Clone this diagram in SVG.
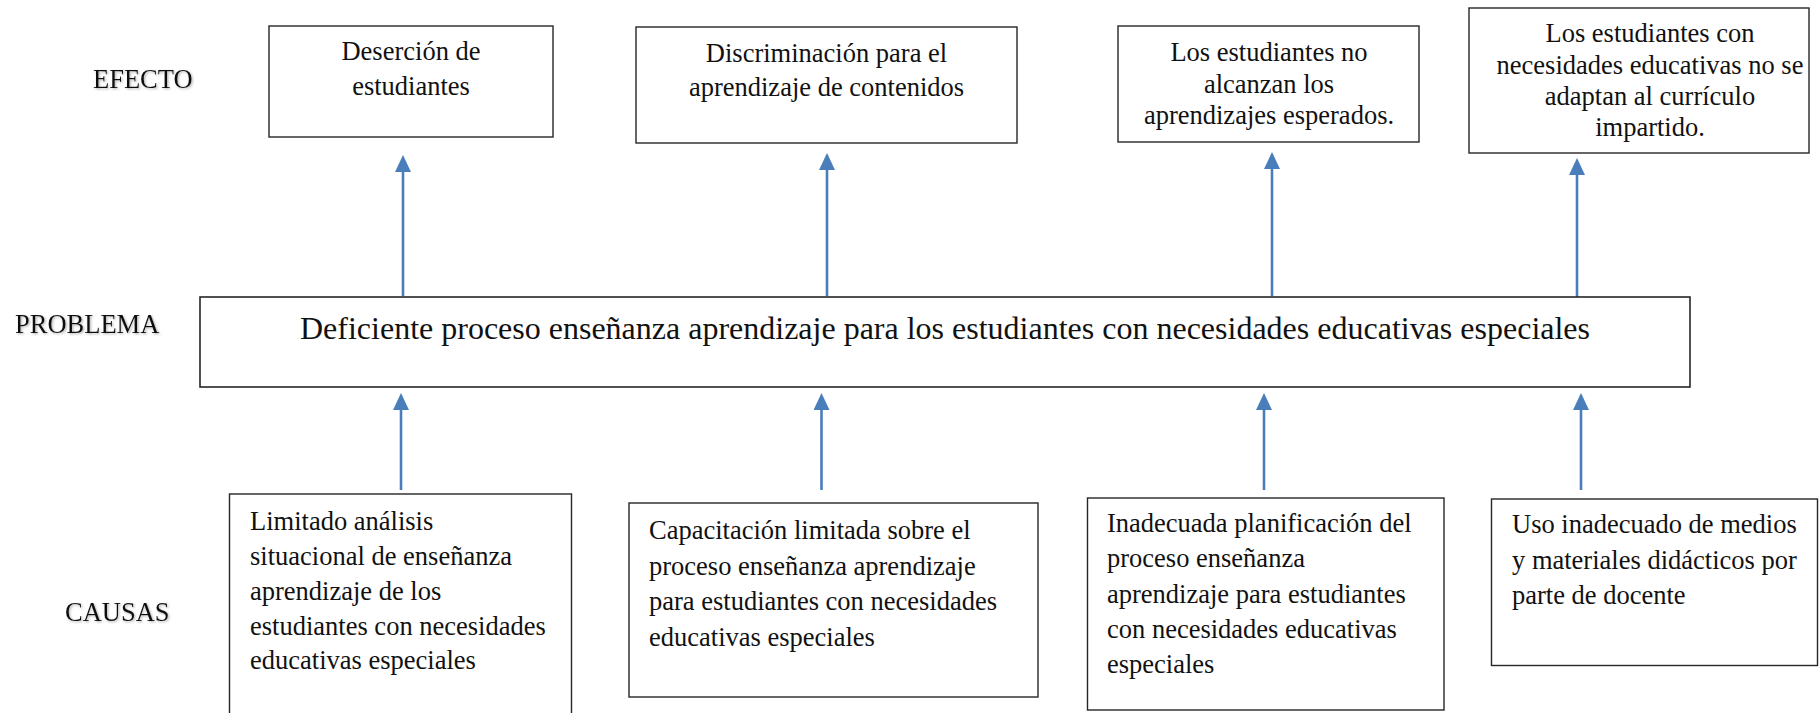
<svg xmlns="http://www.w3.org/2000/svg" width="1820" height="713" viewBox="0 0 1820 713">
<style>
  .box { fill: #ffffff; stroke: #262626; stroke-width: 1.4; }
  .t { font-family: "Liberation Serif", "Times New Roman", serif; font-size: 26.5px; fill: #111111; }
  .c { text-anchor: middle; }
  .lbl { font-family: "Liberation Serif", "Times New Roman", serif; font-size: 26.5px; fill: #111111; filter: url(#shadow); }
  .big { font-family: "Liberation Serif", "Times New Roman", serif; font-size: 32px; fill: #111111; text-anchor: middle; }
  .arrow { stroke: #4A7EBB; stroke-width: 2.6; fill: none; marker-end: url(#head); }
</style>
<defs>
  <marker id="head" markerUnits="userSpaceOnUse" markerWidth="17" markerHeight="16" viewBox="0 0 17 16" refX="7" refY="8" orient="auto">
    <path d="M0,0 L17,8 L0,16 z" fill="#4A7EBB"/>
  </marker>
  <filter id="shadow" x="-10%" y="-30%" width="130%" height="170%">
    <feDropShadow dx="1.2" dy="1.2" stdDeviation="1.2" flood-color="#808080" flood-opacity="0.6"/>
  </filter>
</defs>
<rect width="1820" height="713" fill="#ffffff"/>

<g id="labels">
  <text class="lbl" x="93" y="88">EFECTO</text>
  <text class="lbl" x="15" y="333">PROBLEMA</text>
  <text class="lbl" x="65" y="621">CAUSAS</text>
</g>

<g id="connectors">
  <line class="arrow" x1="403" y1="296" x2="403" y2="165"/>
  <line class="arrow" x1="827" y1="296" x2="827" y2="163"/>
  <line class="arrow" x1="1272" y1="296" x2="1272" y2="162"/>
  <line class="arrow" x1="1577" y1="298" x2="1577" y2="168"/>
  <line class="arrow" x1="401" y1="490" x2="401" y2="403"/>
  <line class="arrow" x1="821.5" y1="490" x2="821.5" y2="403"/>
  <line class="arrow" x1="1264" y1="490" x2="1264" y2="403"/>
  <line class="arrow" x1="1581" y1="490" x2="1581" y2="403"/>
</g>

<g id="efecto1">
  <rect class="box" x="269" y="26" width="284" height="111"/>
  <text class="t c" x="411" y="60">Deserción de</text>
  <text class="t c" x="411" y="95">estudiantes</text>
</g>
<g id="efecto2">
  <rect class="box" x="636" y="27" width="381" height="116"/>
  <text class="t c" x="826.5" y="61.5">Discriminación para el</text>
  <text class="t c" x="826.5" y="95.5">aprendizaje de contenidos</text>
</g>
<g id="efecto3">
  <rect class="box" x="1118" y="26" width="301" height="116"/>
  <text class="t c" x="1269" y="61">Los estudiantes no</text>
  <text class="t c" x="1269" y="92.5">alcanzan los</text>
  <text class="t c" x="1269" y="124">aprendizajes esperados.</text>
</g>
<g id="efecto4">
  <rect class="box" x="1469" y="8" width="340" height="145"/>
  <text class="t c" x="1650" y="42">Los estudiantes con</text>
  <text class="t c" x="1650" y="73.5">necesidades educativas no se</text>
  <text class="t c" x="1650" y="105">adaptan al currículo</text>
  <text class="t c" x="1650" y="136">impartido.</text>
</g>

<g id="problema">
  <rect class="box" x="200" y="297" width="1490" height="90" style="stroke-width:1.6"/>
  <text class="big" x="945" y="339">Deficiente proceso enseñanza aprendizaje para los estudiantes con necesidades educativas especiales</text>
</g>

<g id="causa1">
  <rect class="box" x="229.5" y="494" width="342" height="240"/>
  <text class="t" x="250" y="530">Limitado análisis</text>
  <text class="t" x="250" y="565">situacional de enseñanza</text>
  <text class="t" x="250" y="600">aprendizaje de los</text>
  <text class="t" x="250" y="634.5">estudiantes con necesidades</text>
  <text class="t" x="250" y="669">educativas especiales</text>
</g>
<g id="causa2">
  <rect class="box" x="629" y="503" width="409" height="194"/>
  <text class="t" x="649" y="539">Capacitación limitada sobre el</text>
  <text class="t" x="649" y="574.5">proceso enseñanza aprendizaje</text>
  <text class="t" x="649" y="610">para estudiantes con necesidades</text>
  <text class="t" x="649" y="645.5">educativas especiales</text>
</g>
<g id="causa3">
  <rect class="box" x="1087.5" y="498" width="356.5" height="212"/>
  <text class="t" x="1107" y="532">Inadecuada planificación del</text>
  <text class="t" x="1107" y="567.3">proceso enseñanza</text>
  <text class="t" x="1107" y="602.6">aprendizaje para estudiantes</text>
  <text class="t" x="1107" y="638">con necesidades educativas</text>
  <text class="t" x="1107" y="673.3">especiales</text>
</g>
<g id="causa4">
  <rect class="box" x="1491.5" y="499" width="326" height="166.5"/>
  <text class="t" x="1512" y="533">Uso inadecuado de medios</text>
  <text class="t" x="1512" y="568.5">y materiales didácticos por</text>
  <text class="t" x="1512" y="604">parte de docente</text>
</g>
</svg>
